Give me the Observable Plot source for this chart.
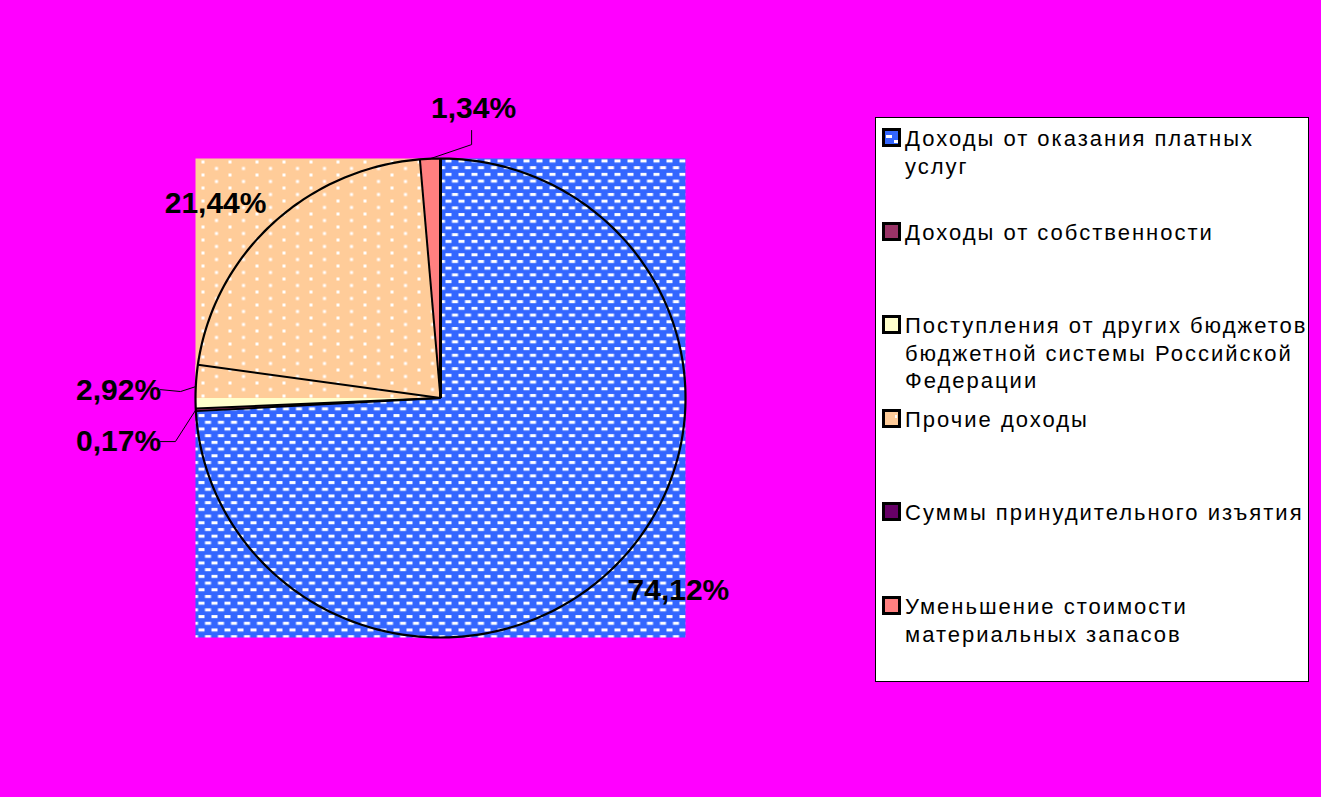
<!DOCTYPE html>
<html>
<head>
<meta charset="utf-8">
<script src="https://cdn.jsdelivr.net/npm/d3@7"></script>
<script src="https://cdn.jsdelivr.net/npm/@observablehq/plot@0.6"></script>
<style>
  html, body { margin: 0; padding: 0; background: #FF00FF; overflow: hidden; }
  #wrap { position: relative; width: 1321px; height: 797px; }
  #legend {
    position: absolute; left: 875px; top: 117px; width: 432px; height: 563px;
    background: #fff; border: 1px solid #000; box-sizing: content-box;
    font-family: "Liberation Sans", Arial, sans-serif; font-size: 22px; letter-spacing: 2px;
    color: #000;
  }
  .item { position: absolute; left: 0; }
  .sw { position: absolute; left: 6px; top: 3px; }
  .txt { position: absolute; left: 29px; width: 406px; line-height: 27.5px; white-space: normal; }
</style>
</head>
<body>
<div id="wrap"><div id="chart"></div><div id="legend"></div></div>
<script>
// ---- data ----
const categories = [
  "Доходы от оказания платных услуг",
  "Доходы от собственности",
  "Поступления от других бюджетов бюджетной системы Российской Федерации",
  "Прочие доходы",
  "Суммы принудительного изъятия",
  "Уменьшение стоимости материальных запасов"
];
const values = [74.12, 0.17, 2.92, 21.44, 0, 1.34];
const colors = ["#3366FF", "#993366", "#FFFFCC", "#FFCC99", "#660066", "#FF8080"];
const patterns = ["url(#pBlue)", null, null, "url(#pPeach)", null, null];

// ---- label layout (unit pie coordinates) ----
const labelAt = [[0.971, -0.804], [-1.314, -0.182], [-1.314, 0.031], [-0.918, 0.812], null, [0.135, 1.209]];
const leaderElbows = [null, [[-1.082, -0.182], [-1.143, -0.182]], [[-1.061, 0.027], [-1.143, 0.035]], null, null, [[0.127, 1.058], [0.127, 1.117]]];
// rendering quirk of the original: this fill starts from the horizontal through the centre
const fillFromAngle = [null, null, null, 270, null, null];

const fmt = v => v.toFixed(2).replace(".", ",") + "%";
const total = d3.sum(values);
const rad = d => d * Math.PI / 180;

// cumulative angles (degrees, clockwise from top)
let acc = 0;
const slices = values.map((v, i) => {
  const a0 = acc / total * 360; acc += v; const a1 = acc / total * 360;
  return {i, v, a0, a1, mid: (a0 + a1) / 2};
});

function sqPoint(a) {
  const dx = Math.sin(rad(a)), dy = Math.cos(rad(a));
  const s = 1 / Math.max(Math.abs(dx), Math.abs(dy));
  return {x: dx * s, y: dy * s};
}
function wedge(a0, a1) {
  const angs = [a0];
  for (let c = 45; c < 360; c += 90) if (c > a0 && c < a1) angs.push(c);
  angs.push(a1);
  return [{x: 0, y: 0}, ...angs.map(sqPoint), {x: 0, y: 0}];
}
const circle = d3.range(0, 361, 1).map(a => ({x: Math.sin(rad(a)), y: Math.cos(rad(a))}));
const bounds = [...new Set(slices.map(s => s.a1 % 360))].map(a => ({x: Math.sin(rad(a)), y: Math.cos(rad(a)), top: a === 0}));

const fillMarks = slices.filter(s => s.v > 0).map(s =>
  Plot.line(wedge(fillFromAngle[s.i] ?? s.a0, s.a1), {x: "x", y: "y", fill: patterns[s.i] || colors[s.i], stroke: "none", curve: "linear"})
);
const labels = slices.filter(s => s.v > 0).map(s => ({x: labelAt[s.i][0], y: labelAt[s.i][1], t: fmt(s.v)}));
const leaderMarks = slices.filter(s => leaderElbows[s.i]).map(s => {
  const pts = [{x: Math.sin(rad(s.mid)), y: Math.cos(rad(s.mid))}, ...leaderElbows[s.i].map(([x, y]) => ({x, y}))];
  return Plot.line(pts, {x: "x", y: "y", stroke: "#000", strokeWidth: 1});
});

const svg = Plot.plot({
  width: 1321, height: 797, margin: 0,
  x: {domain: [-1, 1], range: [195, 685], axis: null},
  y: {domain: [-1, 1], range: [637, 158], axis: null},
  style: {background: "transparent", overflow: "visible"},
  marks: [
    ...fillMarks,
    Plot.line(circle, {x: "x", y: "y", stroke: "#000", strokeWidth: 2.2}),
    Plot.link(bounds.filter(d => !d.top), {x1: 0, y1: 0, x2: "x", y2: "y", stroke: "#000", strokeWidth: 2}),
    Plot.link(bounds.filter(d => d.top), {x1: 0, y1: 0, x2: "x", y2: "y", stroke: "#000", strokeWidth: 3}),
    ...leaderMarks,
    Plot.text(labels, {x: "x", y: "y", text: "t", fontSize: 30, fontWeight: "bold",
      fontFamily: "Liberation Sans, Arial, sans-serif", fill: "#000", letterSpacing: "-0.5px"})
  ]
});
const ns = "http://www.w3.org/2000/svg";
const defs = document.createElementNS(ns, "defs");
defs.innerHTML = `
  <pattern id="pBlue" patternUnits="userSpaceOnUse" x="195" y="158" width="13" height="13.4">
    <rect width="13" height="13.4" fill="#3366FF"/>
    <rect x="3" y="1" width="6" height="3" fill="#fff"/>
    <rect x="9.5" y="7.7" width="6" height="3" fill="#fff"/>
    <rect x="-3.5" y="7.7" width="6" height="3" fill="#fff"/>
  </pattern>
  <pattern id="pPeach" patternUnits="userSpaceOnUse" x="195" y="158" width="27" height="13">
    <rect width="27" height="13" fill="#FFCC99"/>
    <rect x="6" y="2" width="3" height="3" fill="#fff"/>
    <rect x="19.5" y="8.5" width="3" height="3" fill="#fff"/>
  </pattern>
  <pattern id="sBlue" patternUnits="userSpaceOnUse" width="20" height="20">
    <rect width="20" height="20" fill="#3366FF"/>
    <rect x="4" y="7" width="6" height="3" fill="#fff"/>
    <rect x="12" y="12" width="6" height="3" fill="#fff"/>
  </pattern>
  <pattern id="sPeach" patternUnits="userSpaceOnUse" width="20" height="20">
    <rect width="20" height="20" fill="#FFCC99"/>
    <rect x="13" y="6" width="2" height="3" fill="#fff"/>
  </pattern>`;
svg.insertBefore(defs, svg.firstChild);
document.getElementById("chart").appendChild(svg);

// ---- legend ----
const swatchFill = ["url(#sBlue)", null, null, "url(#sPeach)", null, null];
const legend = document.getElementById("legend");
categories.forEach((c, i) => {
  const item = document.createElement("div");
  item.className = "item";
  item.style.top = (7 + i * 93.6) + "px";
  const sw = document.createElementNS(ns, "svg");
  sw.setAttribute("class", "sw");
  sw.setAttribute("width", 20); sw.setAttribute("height", 20);
  const r = document.createElementNS(ns, "rect");
  r.setAttribute("x", 1.5); r.setAttribute("y", 1.5); r.setAttribute("width", 16); r.setAttribute("height", 16);
  r.setAttribute("fill", swatchFill[i] || colors[i]);
  r.setAttribute("stroke", "#000"); r.setAttribute("stroke-width", 3);
  sw.appendChild(r);
  const tx = document.createElement("div");
  tx.className = "txt";
  tx.textContent = c;
  item.appendChild(sw); item.appendChild(tx);
  legend.appendChild(item);
});
</script>
</body>
</html>
